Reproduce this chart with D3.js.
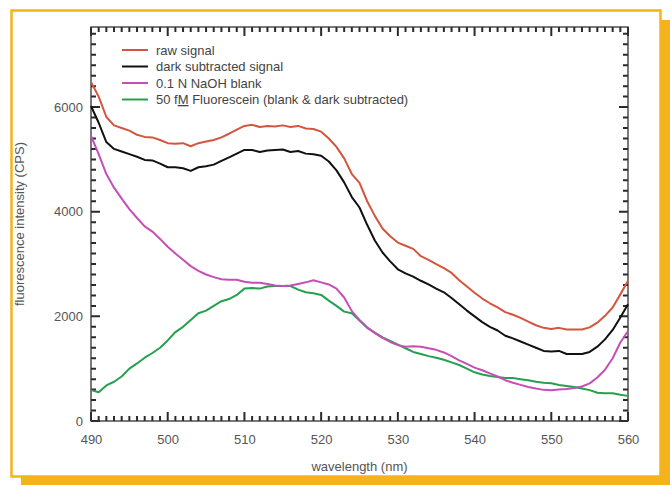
<!DOCTYPE html>
<html lang="en">
<head>
    <meta charset="UTF-8">
    <title>Fluorescence</title>
    <script src="https://d3js.org/d3.v7.min.js"></script>
    <style type="text/css">
        body {
            margin: 0;
            background-color: #ffffff;
        }

        .axis path {
            stroke: none;
        }

        .axis text {
            font-family: "Liberation Sans", Arial, sans-serif;
            font-size: 13px;
            fill: #555;
        }

        .label {
            font-family: "Liberation Sans", Arial, sans-serif;
            font-size: 13px;
            fill: #555;
            text-anchor: middle;
        }

        .legend text {
            font-family: "Liberation Sans", Arial, sans-serif;
            font-size: 13px;
            fill: #444;
        }

        .line {
            fill: none;
            stroke-width: 2px;
            stroke-linejoin: round;
        }
    </style>
</head>
<body>
    <script type="text/javascript">
        //DATA
        const wavelength = [490, 491, 492, 493, 494, 495, 496, 497, 498, 499,
            500, 501, 502, 503, 504, 505, 506, 507, 508, 509,
            510, 511, 512, 513, 514, 515, 516, 517, 518, 519,
            520, 521, 522, 523, 524, 525, 526, 527, 528, 529,
            530, 531, 532, 533, 534, 535, 536, 537, 538, 539,
            540, 541, 542, 543, 544, 545, 546, 547, 548, 549,
            550, 551, 552, 553, 554, 555, 556, 557, 558, 559, 560];

        const rawSignal = [6480, 6200, 5810, 5650, 5600, 5550, 5470, 5430, 5420, 5370,
            5310, 5300, 5310, 5250, 5310, 5340, 5370, 5420, 5490, 5570,
            5640, 5660, 5620, 5640, 5630, 5650, 5620, 5640, 5590, 5580,
            5530, 5400, 5240, 5020, 4720, 4550, 4200, 3920, 3680, 3530,
            3410, 3350, 3290, 3150, 3080, 3000, 2920, 2830, 2690, 2570,
            2450, 2340, 2250, 2170, 2080, 2030, 1970, 1900, 1830, 1780,
            1760, 1780, 1750, 1750, 1750, 1790, 1880, 2010, 2170, 2420, 2680];

        const darkSubtracted = [6020, 5700, 5330, 5200, 5150, 5100, 5050, 4990, 4980, 4920,
            4850, 4850, 4830, 4780, 4850, 4870, 4900, 4970, 5040, 5110,
            5180, 5180, 5140, 5170, 5180, 5190, 5140, 5160, 5110, 5100,
            5070, 4960, 4790, 4560, 4280, 4080, 3750, 3450, 3220, 3050,
            2900, 2820, 2760, 2680, 2610, 2530, 2460, 2350, 2230, 2110,
            2000, 1890, 1800, 1730, 1630, 1580, 1520, 1460, 1400, 1340,
            1330, 1340, 1280, 1280, 1280, 1320, 1420, 1560, 1740, 1980, 2230];

        const naohBlank = [5450, 5100, 4720, 4460, 4250, 4050, 3880, 3720, 3620, 3480,
            3330, 3200, 3080, 2960, 2870, 2800, 2750, 2710, 2700, 2700,
            2660, 2640, 2640, 2620, 2590, 2580, 2590, 2620, 2650, 2690,
            2650, 2610, 2530, 2360, 2100, 1930, 1790, 1680, 1590, 1510,
            1450, 1420, 1430, 1420, 1390, 1360, 1310, 1240, 1160, 1090,
            1020, 970, 910, 850, 780, 730, 690, 650, 620, 595,
            590, 600, 610, 630, 660, 720, 830, 980, 1200, 1500, 1720];

        const fluorescein = [590, 550, 680, 750, 850, 1000, 1100, 1210, 1300, 1400,
            1540, 1700, 1800, 1930, 2060, 2110, 2200, 2290, 2330, 2410,
            2530, 2540, 2530, 2570, 2580, 2580, 2580, 2510, 2460, 2440,
            2410, 2300, 2200, 2090, 2060, 1920, 1780, 1690, 1600, 1530,
            1460, 1390, 1320, 1280, 1240, 1210, 1170, 1120, 1070, 1000,
            930, 890, 860, 840, 820, 820, 800, 780, 750, 730,
            720, 690, 670, 650, 620, 590, 540, 530, 530, 500, 480];

        // legend names split around the underlined "M" of fM
        const seriesNames = [["raw signal"], ["dark subtracted signal"], ["0.1 N NaOH blank"],
            ["50 f", "M", " Fluorescein (blank & dark subtracted)"]];
        const seriesColors = ["#d4553f", "#111111", "#c64fb6", "#25a04f"];
        const xTicks = [490, 500, 510, 520, 530, 540, 550, 560];
        const yTicks = [0, 2000, 4000, 6000];

        //CONSTANTS
        const width = 670;
        const height = 485;
        const plotLeft = 91, plotRight = 628, plotTop = 27, plotBottom = 421;
        const orange = "#f5b31b";

        const svg = d3.select("body")
            .append("svg")
            .attr("width", width)
            .attr("height", height);

        //FRAME WITH SHADOW
        svg.append("rect")
            .attr("x", 21).attr("y", 20)
            .attr("width", width - 21).attr("height", height - 20)
            .attr("fill", orange);

        svg.append("rect")
            .attr("x", 11.5).attr("y", 10.5)
            .attr("width", 649).attr("height", 466)
            .attr("fill", "#ffffff")
            .attr("stroke", orange)
            .attr("stroke-width", 2.5);

        //SCALES
        const xScale = d3.scaleLinear()
            .domain([490, 560])
            .range([plotLeft, plotRight]);

        const yScale = d3.scaleLinear()
            .domain([0, 7530])
            .range([plotBottom, plotTop]);

        const xMinor = d3.range(490, 561, 1);
        const yMinor = d3.range(0, 7501, 200);

        //TICK LABELS via d3 axes
        svg.append("g")
            .attr("class", "axis")
            .attr("transform", "translate(0," + plotBottom + ")")
            .call(d3.axisBottom(xScale).tickValues(xTicks).tickSize(0).tickPadding(14));

        svg.append("g")
            .attr("class", "axis")
            .attr("transform", "translate(" + plotLeft + ",0)")
            .call(d3.axisLeft(yScale).tickValues(yTicks).tickSize(0).tickPadding(8).tickFormat(d3.format("d")));

        //INWARD TICKS ON ALL FOUR SIDES - one path
        const path = d3.path();
        function vTicks(values, len, y0, dir) {
            values.forEach(d => {
                path.moveTo(xScale(d), y0);
                path.lineTo(xScale(d), y0 + dir * len);
            });
        }
        function hTicks(values, len, x0, dir) {
            values.forEach(d => {
                path.moveTo(x0, yScale(d));
                path.lineTo(x0 + dir * len, yScale(d));
            });
        }
        vTicks(xMinor, 5, plotBottom, -1);
        vTicks(xTicks, 9, plotBottom, -1);
        vTicks(xMinor, 5, plotTop, 1);
        vTicks(xTicks, 9, plotTop, 1);
        hTicks(yMinor, 5, plotLeft, 1);
        hTicks(yTicks, 9, plotLeft, 1);
        hTicks(yMinor, 5, plotRight, -1);
        hTicks(yTicks, 9, plotRight, -1);

        svg.append("path")
            .attr("d", path.toString())
            .attr("fill", "none")
            .attr("stroke", "#2a2a2a")
            .attr("stroke-width", 2);

        // closing box
        svg.append("rect")
            .attr("x", plotLeft).attr("y", plotTop)
            .attr("width", plotRight - plotLeft).attr("height", plotBottom - plotTop)
            .attr("fill", "none")
            .attr("stroke", "#333")
            .attr("stroke-width", 1.3);

        //LINES
        const allSeries = [rawSignal, darkSubtracted, naohBlank, fluorescein];

        const line = d3.line()
            .x((d, i) => xScale(wavelength[i]))
            .y(d => yScale(d));

        // draw bottom-most first so red/black sit on top
        [3, 2, 1, 0].forEach(k => {
            svg.append("path")
                .attr("class", "line")
                .attr("d", line(allSeries[k]))
                .attr("stroke", seriesColors[k]);
        });

        //LEGEND
        const legend = svg.append("g").attr("class", "legend");
        seriesNames.forEach((parts, i) => {
            const y = 50 + i * 16.5;
            legend.append("line")
                .attr("x1", 122).attr("x2", 148)
                .attr("y1", y).attr("y2", y)
                .attr("stroke", seriesColors[i])
                .attr("stroke-width", 2);
            const t = legend.append("text")
                .attr("x", 156)
                .attr("y", y + 4.5);
            parts.forEach((p, j) => {
                t.append("tspan")
                    .attr("text-decoration", j === 1 ? "underline" : null)
                    .text(p);
            });
        });

        //AXIS LABELS
        svg.append("text")
            .attr("class", "label")
            .attr("x", (plotLeft + plotRight) / 2)
            .attr("y", 471)
            .text("wavelength (nm)");

        svg.append("text")
            .attr("class", "label")
            .attr("transform", "rotate(-90)")
            .attr("x", -224)
            .attr("y", 24)
            .text("fluorescence intensity (CPS)");
    </script>
</body>
</html>
